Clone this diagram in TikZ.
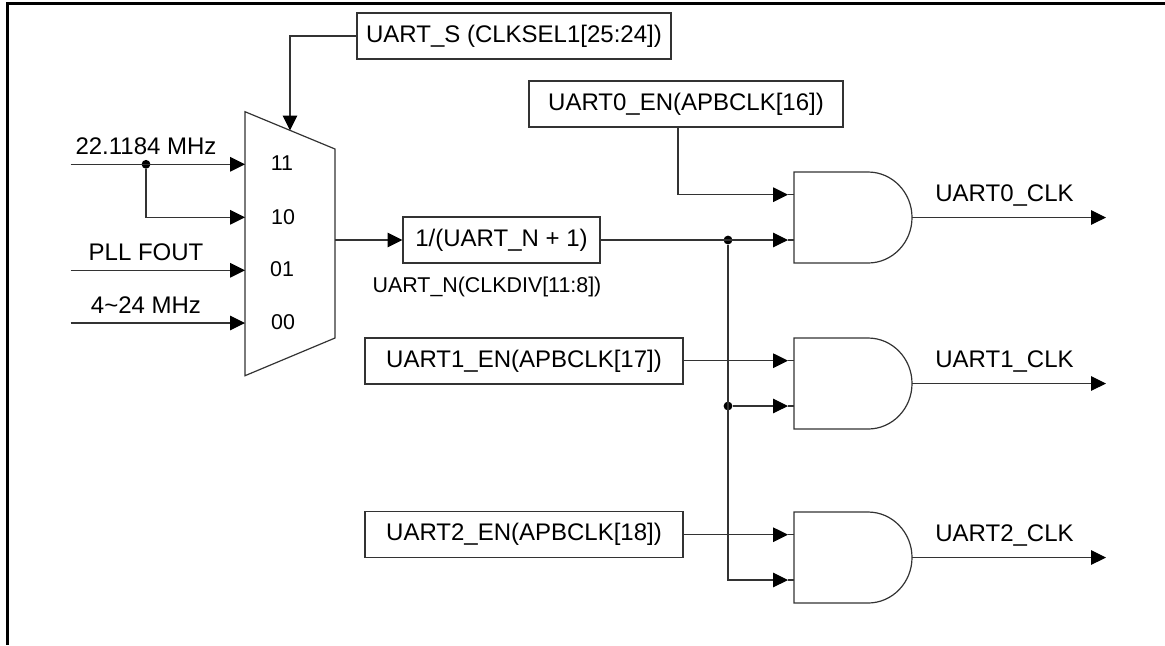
\documentclass[tikz,border=0pt]{standalone}
\usepackage{fontspec}
\setmainfont{Liberation Sans}
\usetikzlibrary{arrows.meta}
\tikzset{
    wire/.style={black!80, line width=0.6pt},
    sig/.style={wire, -{Triangle[length=7.4pt, width=7.2pt, black]}},
    regbox/.style={draw=black!80, line width=0.6pt, inner sep=0pt, minimum height=23pt},
    lbl/.style={anchor=base, inner sep=0pt},
    small/.style={font=\fontsize{10.7}{12}\selectfont, inner sep=0pt},
    dot/.style={circle, fill=black, inner sep=0pt, minimum size=4.4pt}
}
\begin{document}
\begin{tikzpicture}[x=0.5pt, y=-0.5pt, font=\fontsize{12}{14}\selectfont]
    \useasboundingbox (0,0) rectangle (1165,645);
    \draw[black, line width=1.5pt] (1165,3.5) -- (7,3.5) -- (7,645);

    % Multiplexer
    \draw[wire] (245,111.7) -- (335,149) -- (335,338) -- (245,375.7) -- cycle;
    \node[small] (sel11) at (282,163) {11};
    \node[small] (sel10) at (283,217) {10};
    \node[small] (sel01) at (282,269) {01};
    \node[small] (sel00) at (283,322) {00};
    \coordinate (muxa) at (245,164.3);
    \coordinate (muxb) at (245,217.3);
    \coordinate (muxc) at (245,270.3);
    \coordinate (muxd) at (245,323);
    \coordinate (muxs) at (290,130.4);
    \coordinate (muxo) at (335,240);

    % Clock sources
    \coordinate (srca) at (70.5,164.3);
    \coordinate (srcc) at (70.5,270.3);
    \coordinate (srcd) at (70.5,323);
    \node[lbl] (lbla) at (146,154.5) {22.1184 MHz};
    \node[lbl] (lblc) at (146,260) {PLL FOUT};
    \node[lbl] (lbld) at (146,313) {4\char`~24 MHz};
    \node[dot] (split) at (146,164.3) {};
    \draw[sig] (srca) -- (muxa);
    \draw[sig] (split) |- (muxb);
    \draw[sig] (srcc) -- (muxc);
    \draw[sig] (srcd) -- (muxd);

    % Registers and divider
    \node[regbox, minimum width=157pt] (uarts) at (514,36) {UART\_S (CLKSEL1[25:24])};
    \node[regbox, minimum width=157pt] (en0) at (686,104) {UART0\_EN(APBCLK[16])};
    \node[regbox, minimum width=159pt] (en1) at (524,361) {UART1\_EN(APBCLK[17])};
    \node[regbox, minimum width=159pt] (en2) at (524,534.5) {UART2\_EN(APBCLK[18])};
    \node[regbox, minimum width=98.5pt] (div) at (501.5,240) {1/(UART\_N + 1)};
    \node[small, anchor=base] (divlbl) at (487,292) {UART\_N(CLKDIV[11:8])};
    \coordinate (en0drop) at (678,127);
    \draw[sig] (uarts.west) -| (muxs);
    \draw[sig] (muxo) -- (muxo -| div.west);

    % AND gates
    \foreach \n/\t in {0/172,1/338,2/512}{
        \draw[wire] (794,\t) -- (868,\t)
            .. controls (892.3,\t) and (912,\t+20.4) .. (912,\t+45.5)
            .. controls (912,\t+70.6) and (892.3,\t+91) .. (868,\t+91)
            -- (794,\t+91) -- cycle;
        \coordinate (gate\n a) at (788,\t+22.7);
        \coordinate (gate\n b) at (788,\t+68);
        \coordinate (gate\n o) at (912,\t+45.5);
        \coordinate (clk\n) at (1106,\t+45.5);
        \draw[wire] (gate\n a) -- +(6,0);
        \draw[wire] (gate\n b) -- +(6,0);
        \draw[sig] (gate\n o) -- (clk\n);
    }
    \node[lbl] (clklbl0) at (1004.5,201.7) {UART0\_CLK};
    \node[lbl] (clklbl1) at (1004.5,367.7) {UART1\_CLK};
    \node[lbl] (clklbl2) at (1004.5,541.7) {UART2\_CLK};

    % Enables and divided clock
    \node[dot] (bus0) at (728,240) {};
    \node[dot] (bus1) at (728,406) {};
    \draw[sig] (en0drop) |- (gate0a);
    \draw[sig] (div.east) -- (gate0b);
    \draw[sig] (en1.east |- gate1a) -- (gate1a);
    \draw[sig] (en2.east |- gate2a) -- (gate2a);
    \draw[sig] (bus1) -- (gate1b);
    \draw[sig] (bus0) |- (gate2b);
\end{tikzpicture}
\end{document}
